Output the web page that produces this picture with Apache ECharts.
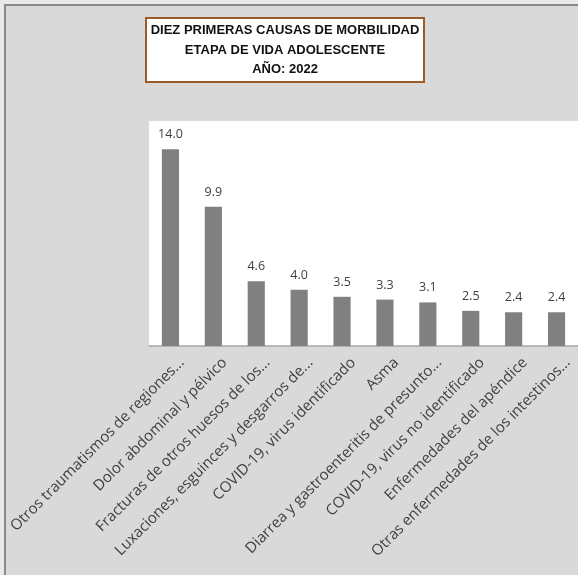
<!DOCTYPE html>
<html><head><meta charset="utf-8">
<script src="https://cdn.jsdelivr.net/npm/echarts@6/dist/echarts.min.js"></script>
<style>html,body{margin:0;padding:0;background:#e9e9e9;}#c{width:578px;height:575px;}</style>
</head><body><div id="c"></div>
<script>
const categories = [
  "Otros traumatismos de regiones...",
  "Dolor abdominal y pélvico",
  "Fracturas de otros huesos de los...",
  "Luxaciones, esguinces y desgarros de...",
  "COVID-19, virus identificado",
  "Asma",
  "Diarrea y gastroenteritis de presunto...",
  "COVID-19, virus no identificado",
  "Enfermedades del apéndice",
  "Otras enfermedades de los intestinos..."
];
const values = [14.0, 9.9, 4.6, 4.0, 3.5, 3.3, 3.1, 2.5, 2.4, 2.4];
const titleLines = ["DIEZ PRIMERAS CAUSAS DE MORBILIDAD", "ETAPA DE VIDA ADOLESCENTE", "AÑO: 2022"];

const chart = echarts.init(document.getElementById('c'));
chart.setOption({
  animation: false,
  backgroundColor: 'transparent',
  graphic: [{
    type: 'rect', z: -10, silent: true,
    shape: {x: 5, y: 5, width: 700, height: 700},
    style: {fill: '#d9d9d9', stroke: '#8a8a8a', lineWidth: 2}
  }],
  title: {
    text: titleLines.join('\n'),
    left: 280, top: 18, textAlign: 'center',
    backgroundColor: '#ffffff', borderColor: '#9c5a28', borderWidth: 2,
    padding: [3, 5, 3, 5],
    textStyle: {fontFamily: 'Liberation Sans', fontWeight: 'bold', fontSize: 13, lineHeight: 19.5, color: '#111'}
  },
  grid: {left: 149, top: 121, width: 437, bottom: 229, show: true, backgroundColor: '#ffffff', borderWidth: 0},
  xAxis: {
    type: 'category', data: categories,
    axisLine: {show: true, lineStyle: {color: '#a6a6a6', width: 1.5}},
    axisTick: {show: false},
    axisLabel: {interval: 0, rotate: 45, margin: 3, verticalAlign: 'top', lineHeight: 18, padding: [7, 0, 0, 0],
      color: '#404040', fontFamily: 'Open Sans', fontSize: 15}
  },
  yAxis: {type: 'value', min: 0, max: 16, show: false},
  series: [{
    type: 'bar', data: values, barWidth: '40%',
    itemStyle: {color: '#808080'},
    label: {show: true, position: 'top', distance: 8, formatter: p => p.value.toFixed(1), color: '#404040', fontFamily: 'Open Sans', fontSize: 12.5}
  }]
});
</script></body></html>
